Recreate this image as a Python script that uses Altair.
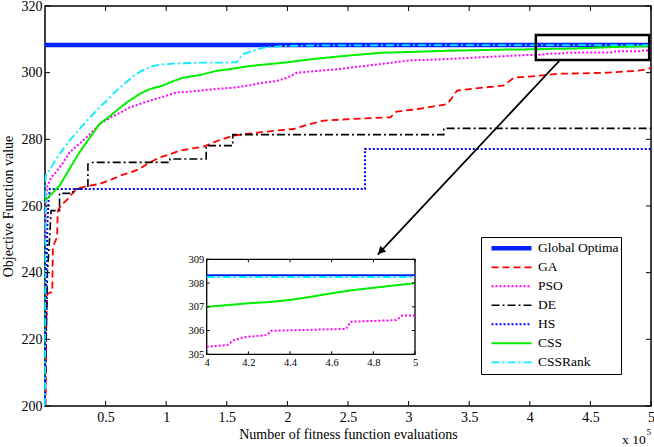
import altair as alt
import pandas as pd

# ---------------- data ----------------
series_names = ["Global Optima", "GA", "PSO", "DE", "HS", "CSS", "CSSRank"]
series_colors = ["#0022ff", "#ff0000", "#ff00ff", "#000000", "#0000ff", "#00ee00", "#00eeff"]
series_dashes = [[1, 0], [7, 4], [2, 2], [8, 3, 2, 3], [2, 2], [1, 0], [8, 3, 2, 3]]
series_widths = [4.5, 1.8, 2.0, 1.6, 2.0, 2.0, 1.8]

global_x = [0.0, 4.0, 5.0]
global_y = [308.33, 308.33, 308.33]

ga_x = [0.005, 0.01, 0.02, 0.06, 0.065, 0.10, 0.105, 0.14, 0.175, 0.22, 0.26, 0.35, 0.45, 0.55,
        0.62, 0.70, 0.78, 0.86, 0.95, 1.03, 1.11, 1.20, 1.28, 1.33, 1.42, 1.55, 1.66, 1.77, 1.90,
        2.05, 2.18, 2.30, 2.52, 2.70, 2.85, 2.90, 3.01, 3.15, 3.32, 3.40, 3.55, 3.78, 3.87, 4.05,
        4.25, 4.42, 4.64, 4.86, 4.97, 5.0]
ga_y = [200, 225, 233.7, 234.2, 247.7, 250.7, 258.6, 260.5, 261.6, 263.5, 265.1, 266.0, 266.6, 268.0,
        269.1, 270.0, 271.1, 273.0, 274.6, 275.5, 276.6, 277.2, 277.6, 278.1, 279.5, 281.1, 281.6,
        282.1, 282.6, 283.1, 284.5, 285.6, 286.1, 286.4, 286.6, 288.3, 288.8, 289.5, 290.6, 294.6,
        295.3, 296.1, 298.5, 299.0, 299.7, 299.8, 300.0, 300.5, 301.0, 301.5]

pso_x = [0.0, 0.01, 0.02, 0.05, 0.08, 0.15, 0.20, 0.285, 0.37, 0.45, 0.54, 0.62, 0.70, 0.78, 0.86,
         0.95, 1.08, 1.25, 1.41, 1.58, 1.70, 1.80, 1.91, 2.00, 2.08, 2.24, 2.40, 2.52, 2.70, 2.85,
         3.01, 3.20, 3.43, 3.70, 4.0, 4.10, 4.13, 4.18, 4.29, 4.31, 4.67, 4.69, 4.91, 4.94, 5.0]
pso_y = [250, 263, 266, 268.5, 269.7, 273.0, 276.0, 278.7, 281.5, 284.6, 286.5, 288.0, 289.6, 290.6,
         291.5, 292.5, 294.0, 294.5, 295.1, 295.6, 296.3, 297.0, 297.5, 298.5, 300.0, 300.5, 301.0,
         301.5, 302.3, 303.0, 303.7, 303.9, 304.3, 304.8, 305.32, 305.39, 305.6, 305.72, 305.81,
         305.99, 306.07, 306.37, 306.44, 306.63, 306.63]

de_x = [0.0, 0.02, 0.04, 0.05, 0.12, 0.12, 0.23, 0.23, 0.354, 0.354, 0.40, 1.03, 1.03, 1.33, 1.33,
        1.55, 1.55, 3.29, 3.29, 5.0]
de_y = [200, 240, 251.7, 258.6, 258.6, 263.8, 263.8, 265.1, 265.1, 272.6, 273.1, 273.1, 274.1, 274.1,
        278.1, 278.1, 281.4, 281.4, 283.3, 283.3]

hs_x = [0.0, 0.01, 0.02, 0.03, 0.04, 2.64, 2.64, 5.0]
hs_y = [200, 235, 255, 262, 265.1, 265.1, 277.1, 277.1]

css_x = [0.0, 0.12, 0.20, 0.285, 0.37, 0.45, 0.52, 0.59, 0.68, 0.78, 0.86, 0.97, 1.06, 1.14, 1.28,
         1.41, 1.55, 1.69, 1.83, 1.97, 2.10, 2.24, 2.38, 2.52, 2.66, 2.79, 3.01, 3.25, 3.50, 3.75,
         4.0, 4.1, 4.2, 4.3, 4.4, 4.5, 4.6, 4.7, 4.8, 4.9, 5.0]
css_y = [261.6, 266.1, 271.0, 276.1, 280.5, 284.6, 286.5, 288.6, 291.2, 293.6, 295.0, 296.1, 297.5,
         298.5, 299.3, 300.5, 301.2, 302.0, 302.5, 303.0, 303.6, 304.2, 304.7, 305.2, 305.6, 306.0,
         306.2, 306.5, 306.7, 306.9, 307.0, 307.07, 307.15, 307.2, 307.29, 307.42, 307.57, 307.7,
         307.8, 307.9, 307.99]

cssrank_x = [0.0, 0.005, 0.05, 0.12, 0.20, 0.285, 0.37, 0.45, 0.52, 0.59, 0.66, 0.73, 0.80, 0.89,
             0.97, 1.06, 1.28, 1.45, 1.58, 1.63, 1.72, 1.80, 1.97, 2.20, 2.60, 3.00, 4.0, 5.0]
cssrank_y = [200, 269.0, 271.5, 275.6, 279.5, 283.1, 286.5, 289.6, 292.0, 294.6, 296.8, 299.0, 300.6,
             302.0, 302.5, 302.7, 303.0, 303.0, 303.1, 305.5, 306.6, 307.5, 308.0, 308.15, 308.2,
             308.25, 308.25, 308.25]

x_ticks = [0.5, 1, 1.5, 2, 2.5, 3, 3.5, 4, 4.5, 5]
y_ticks = [200, 220, 240, 260, 280, 300, 320]
inset_x_ticks = [4.0, 4.2, 4.4, 4.6, 4.8, 5.0]
inset_y_ticks = [305, 306, 307, 308, 309]
inset_x_domain = [4, 5]
inset_y_domain = [305, 309]
zoom_box_x = [4.05, 4.985]
zoom_box_y = [303.8, 311.3]
arrow_x = [4.25, 2.745]
arrow_y = [303.8, 245.4]
arrow_head_x = [2.77]
arrow_head_y = [246.4]

# ---------------- build tables ----------------
x_lists = [global_x, ga_x, pso_x, de_x, hs_x, css_x, cssrank_x]
y_lists = [global_y, ga_y, pso_y, de_y, hs_y, css_y, cssrank_y]
rows = []
for name, xl, yl in zip(series_names, x_lists, y_lists):
    for i, (a, b) in enumerate(zip(xl, yl)):
        rows.append({"series": name, "x": a, "y": b, "order": i})
df = pd.DataFrame(rows)

W, H = 606, 400
TOP = 6
FONT = "Liberation Serif"
IN_L, IN_R, IN_T, IN_B = 161.7, 370.0, 253.3, 348.3

xs = alt.Scale(domain=[0, 5], nice=False, zero=False)
ys = alt.Scale(domain=[200, 320], nice=False, zero=False)
xi = alt.Scale(domain=inset_x_domain, range=[IN_L, IN_R], nice=False, zero=False)
yi = alt.Scale(domain=inset_y_domain, range=[IN_B, IN_T], nice=False, zero=False)

color_scale = alt.Scale(domain=series_names, range=series_colors)
dash_scale = alt.Scale(domain=series_names, range=series_dashes)
width_scale = alt.Scale(type="ordinal", domain=series_names, range=series_widths)

leg = alt.Legend(title=None, orient="none", legendX=436, legendY=231, symbolType="stroke",
                 symbolSize=1600, labelFont=FONT, labelFontSize=13.5, labelFontWeight="normal",
                 labelColor="black", strokeColor="black", fillColor="white", padding=2,
                 rowPadding=0, clipHeight=18.6, symbolOffset=6, labelOffset=4)

x_axis = alt.Axis(orient="bottom", values=x_ticks, format="~g",
                  title="Number of fitness function evaluations",
                  ticks=False, domain=False, grid=False, labelFont=FONT, labelFontSize=14,
                  labelColor="black", titleFont=FONT, titleFontSize=14, titleFontWeight="normal",
                  titleColor="black", labelPadding=4, titlePadding=3, labelFlush=False,
                  labelOverlap=False)
y_axis = alt.Axis(orient="left", values=y_ticks, title="Objective Function value", ticks=False,
                  domain=False, grid=False, labelFont=FONT, labelFontSize=14, labelColor="black",
                  titleFont=FONT, titleFontSize=14, titleFontWeight="normal", titleColor="black",
                  labelPadding=3, titlePadding=6, labelFlush=False, labelOverlap=False)

lines = alt.Chart(df).mark_line().encode(
    x=alt.X("x:Q", scale=xs, axis=x_axis),
    y=alt.Y("y:Q", scale=ys, axis=y_axis),
    color=alt.Color("series:N", scale=color_scale, legend=leg),
    strokeDash=alt.StrokeDash("series:N", scale=dash_scale, legend=leg),
    strokeWidth=alt.StrokeWidth("series:N", scale=width_scale, legend=leg),
    order="order:Q",
)

xt = pd.DataFrame({"t": x_ticks})
yt = pd.DataFrame({"t": y_ticks})
rule = dict(color="black", strokeWidth=1)
bottom_ticks = alt.Chart(xt).mark_rule(**rule).encode(
    x=alt.X("t:Q", scale=xs, axis=None), y=alt.value(H), y2=alt.value(H - 5))
top_ticks = alt.Chart(xt).mark_rule(**rule).encode(
    x=alt.X("t:Q", scale=xs, axis=None), y=alt.value(0), y2=alt.value(5))
left_ticks = alt.Chart(yt).mark_rule(**rule).encode(
    y=alt.Y("t:Q", scale=ys, axis=None), x=alt.value(0), x2=alt.value(5))
right_ticks = alt.Chart(yt).mark_rule(**rule).encode(
    y=alt.Y("t:Q", scale=ys, axis=None), x=alt.value(W), x2=alt.value(W - 5))

zb = pd.DataFrame({"x0": [zoom_box_x[0]], "x1": [zoom_box_x[1]],
                   "y0": [zoom_box_y[0]], "y1": [zoom_box_y[1]]})
zoom_rect = alt.Chart(zb).mark_rect(fillOpacity=0, stroke="black", strokeWidth=2.5).encode(
    x=alt.X("x0:Q", scale=xs, axis=None), x2="x1",
    y=alt.Y("y0:Q", scale=ys, axis=None), y2="y1")

arrow_df = pd.DataFrame({"x": arrow_x, "y": arrow_y})
arrow = alt.Chart(arrow_df).mark_line(color="black", strokeWidth=1.8).encode(
    x=alt.X("x:Q", scale=xs, axis=None), y=alt.Y("y:Q", scale=ys, axis=None))
head_df = pd.DataFrame({"x": arrow_head_x, "y": arrow_head_y})
head = alt.Chart(head_df).mark_point(shape="triangle-up", filled=True, size=70, angle=223,
                                     color="black", opacity=1).encode(
    x=alt.X("x:Q", scale=xs, axis=None), y=alt.Y("y:Q", scale=ys, axis=None))

xlab = alt.Chart(pd.DataFrame({"t": ["x 10"]})).mark_text(
    align="left", baseline="alphabetic", font=FONT, fontSize=13.5, color="black").encode(
    x=alt.value(577), y=alt.value(438), text="t:N")
sup = alt.Chart(pd.DataFrame({"t": ["5"]})).mark_text(
    align="left", baseline="alphabetic", font=FONT, fontSize=9, color="black").encode(
    x=alt.value(601.5), y=alt.value(429), text="t:N")

# ---------------- inset ----------------
inset_x_axis = alt.Axis(orient="bottom", offset=-(H - IN_B), values=inset_x_ticks, format="~g",
                        ticks=False, domain=False, grid=False, labelFont=FONT, labelFontSize=10.5,
                        labelColor="black", labelPadding=3, labelFlush=False, labelOverlap=False,
                        title=None)
inset_y_axis = alt.Axis(orient="left", offset=-IN_L, values=inset_y_ticks, ticks=False,
                        domain=False, grid=False, labelFont=FONT, labelFontSize=10.5,
                        labelColor="black", labelPadding=3, labelFlush=False, labelOverlap=False,
                        title=None)
fr = pd.DataFrame({"x0": [inset_x_domain[0]], "x1": [inset_x_domain[1]],
                   "y0": [inset_y_domain[0]], "y1": [inset_y_domain[1]]})
frame = alt.Chart(fr).mark_rect(fill="white", stroke="black", strokeWidth=1.3).encode(
    x=alt.X("x0:Q", scale=xi, axis=inset_x_axis), x2="x1",
    y=alt.Y("y0:Q", scale=yi, axis=inset_y_axis), y2="y1")

inset_lines = alt.Chart(df).transform_filter(
    (alt.datum.x >= inset_x_domain[0]) & (alt.datum.y >= inset_y_domain[0])
).mark_line().encode(
    x=alt.X("x:Q", scale=xi, axis=None),
    y=alt.Y("y:Q", scale=yi, axis=None),
    color=alt.Color("series:N", scale=color_scale, legend=None),
    strokeDash=alt.StrokeDash("series:N", scale=dash_scale, legend=None),
    strokeWidth=alt.value(2),
    order="order:Q",
)

ixt = pd.DataFrame({"t": inset_x_ticks})
iyt = pd.DataFrame({"t": inset_y_ticks})
in_b = alt.Chart(ixt).mark_rule(**rule).encode(
    x=alt.X("t:Q", scale=xi, axis=None), y=alt.value(IN_B), y2=alt.value(IN_B - 3))
in_t = alt.Chart(ixt).mark_rule(**rule).encode(
    x=alt.X("t:Q", scale=xi, axis=None), y=alt.value(IN_T), y2=alt.value(IN_T + 3))
in_l = alt.Chart(iyt).mark_rule(**rule).encode(
    y=alt.Y("t:Q", scale=yi, axis=None), x=alt.value(IN_L), x2=alt.value(IN_L + 3))
in_r = alt.Chart(iyt).mark_rule(**rule).encode(
    y=alt.Y("t:Q", scale=yi, axis=None), x=alt.value(IN_R), x2=alt.value(IN_R - 3))

chart = alt.layer(
    lines, bottom_ticks, top_ticks, left_ticks, right_ticks, zoom_rect, arrow, head, xlab, sup,
    frame, inset_lines, in_b, in_t, in_l, in_r
).resolve_scale(x="independent", y="independent").properties(
    width=W, height=H,
    autosize=alt.AutoSizeParams(type="none"),
    padding={"left": 45, "top": TOP, "right": 3, "bottom": 447 - TOP - H},
    background="white",
).configure(font=FONT).configure_view(stroke="black", strokeWidth=1.5).configure_legend(
    labelFont=FONT)

chart.save("out.html", embed_options={"renderer": "svg", "actions": False})
